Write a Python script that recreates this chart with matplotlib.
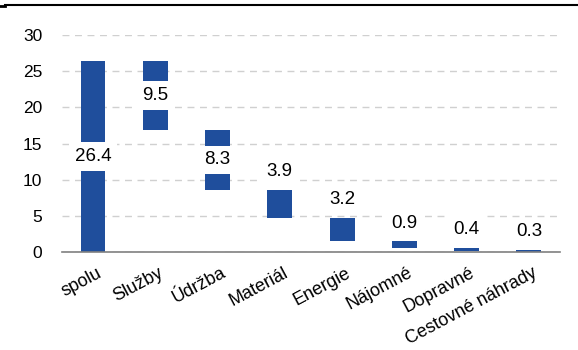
import matplotlib.pyplot as plt
import numpy as np
from matplotlib.lines import Line2D

plt.rcParams['font.family'] = ['Liberation Sans', 'DejaVu Sans']

categories = ['spolu', 'Služby', 'Údržba', 'Materiál', 'Energie',
              'Nájomné', 'Dopravné', 'Cestovné náhrady']
values = [26.4, 9.5, 8.3, 3.9, 3.2, 0.9, 0.4, 0.3]
yticks = [0, 5, 10, 15, 20, 25, 30]

bar_color = '#1f4e9c'

# waterfall: first bar is the total, the rest step down from it
tops = [values[0]]
bases = [0.0]
level = values[0]
for v in values[1:]:
    base = level - v
    if base < 0:  # rounding leaves the last step a bit below zero
        base = 0.0
    tops.append(base + v)
    bases.append(base)
    level = base
heights = [t - b for t, b in zip(tops, bases)]

fig = plt.figure(figsize=(5.78, 3.5), dpi=100)
ax = fig.add_axes([0.107, 0.28, 0.862, 0.62])

x = np.arange(len(categories))
ax.bar(x, heights, bottom=bases, width=0.4, color=bar_color, zorder=2)

for i, v in enumerate(values):
    if heights[i] > 5:
        ypos = bases[i] + heights[i] / 2
    else:
        ypos = tops[i] + 2.5
    ax.text(x[i], ypos, f'{v:.1f}', ha='center', va='center', fontsize=13.5,
            color='black', zorder=3,
            bbox=dict(facecolor='white', edgecolor='none', pad=4))

ax.set_xlim(-0.5, len(categories) - 0.5)
ax.set_ylim(0, 30)
ax.set_yticks(yticks)
ax.yaxis.grid(True, linestyle=(0, (5, 4)), color='#d0d0d0', linewidth=1, zorder=0)
ax.tick_params(axis='y', length=0, labelsize=12.5, pad=14)

ax.set_xticks(x + 0.05)
ax.set_xticklabels(categories, rotation=28, ha='right', va='top',
                   rotation_mode='anchor', fontsize=13)
ax.tick_params(axis='x', length=0, pad=9)

for s in ['top', 'right', 'left']:
    ax.spines[s].set_visible(False)
ax.spines['bottom'].set_color('#808080')
ax.spines['bottom'].set_linewidth(1.2)

fig.add_artist(Line2D([0.008, 1.0], [0.985, 0.985], color='black', linewidth=1.5))
fig.add_artist(Line2D([0.0, 0.008], [0.982, 0.982], color='black', linewidth=2))

fig.savefig('out.png', dpi=100)
